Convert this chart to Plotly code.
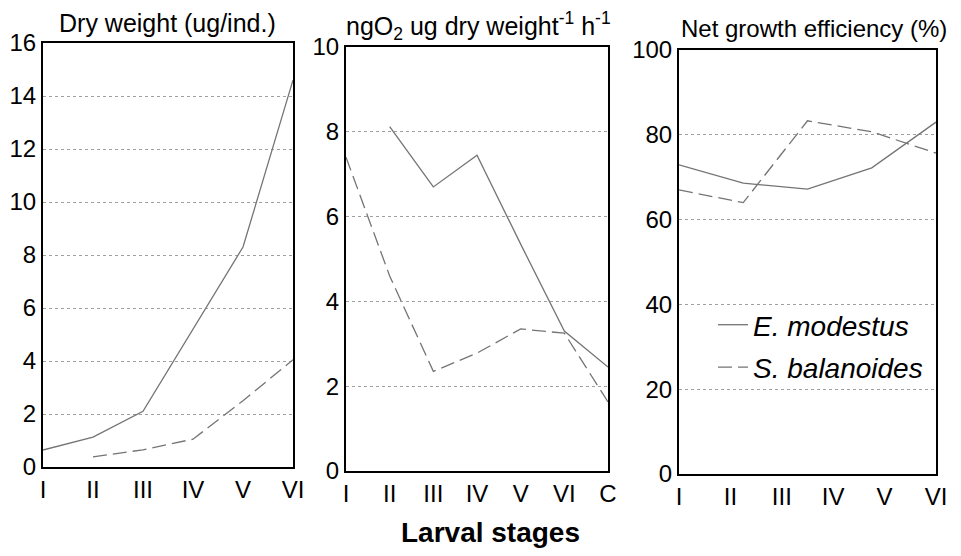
import plotly.graph_objects as go

# ---- data ----
stages6 = ["I", "II", "III", "IV", "V", "VI"]
stages7 = ["I", "II", "III", "IV", "V", "VI", "C"]

dry_modestus = [0.64, 1.13, 2.1, 5.2, 8.3, 14.6]
dry_balanoides = [None, 0.38, 0.65, 1.05, 2.5, 4.05]

resp_modestus = [None, 8.12, 6.7, 7.45, 5.35, 3.3, 2.45]
resp_balanoides = [7.4, 4.6, 2.35, 2.78, 3.35, 3.25, 1.63]

eff_x = [1, 2.25, 3.5, 4.75, 6]          # stage positions of the efficiency points
eff_modestus = [72.9, 68.6, 67.2, 72.2, 83.0]
eff_balanoides = [67.0, 64.0, 83.3, 80.7, 75.7]

# page is 961x556; the html body has an 8px margin
OFF = 8
W, H = 961 - 2 * OFF, 556 - 2 * OFF
GRAY = "#747474"
FONT = "Liberation Sans, Arial, sans-serif"

fig = go.Figure()

def fx(a):
    return (a - OFF) / W

def fy(a):
    return (H - (a - OFF)) / H

def px_x(a, b):
    return [fx(a), fx(b)]

def px_y(top, bottom):
    return [fy(bottom), fy(top)]

solid = dict(color=GRAY, width=1.3)
dashed = dict(color=GRAY, width=1.3, dash="14px,6px")

# panel 1
fig.add_trace(go.Scatter(x=stages6, y=dry_modestus, mode="lines", line=solid,
                         xaxis="x", yaxis="y", showlegend=False))
fig.add_trace(go.Scatter(x=stages6, y=dry_balanoides, mode="lines", line=dashed,
                         xaxis="x", yaxis="y", showlegend=False))
# panel 2
fig.add_trace(go.Scatter(x=stages7, y=resp_modestus, mode="lines", line=solid,
                         xaxis="x2", yaxis="y2", showlegend=False))
fig.add_trace(go.Scatter(x=stages7, y=resp_balanoides, mode="lines", line=dashed,
                         xaxis="x2", yaxis="y2", showlegend=False))
# panel 3
fig.add_trace(go.Scatter(x=eff_x, y=eff_modestus, mode="lines", line=solid,
                         xaxis="x3", yaxis="y3", name="<i>E. modestus</i>",
                         legendgroup="a"))
fig.add_trace(go.Scatter(x=eff_x, y=eff_balanoides, mode="lines", line=dashed,
                         xaxis="x3", yaxis="y3", name="<i>S. balanoides</i>",
                         legendgroup="b"))

axis_common = dict(showline=True, linecolor="black", linewidth=2, mirror=True,
                   ticks="", zeroline=False, automargin=False,
                   tickfont=dict(size=24, color="black", family=FONT))
yaxis_common = dict(axis_common, showgrid=True, gridcolor="#a0a0a0", gridwidth=1,
                    griddash="dot")

fig.update_layout(
    width=W, height=H,
    margin=dict(l=0, r=0, t=0, b=0),
    paper_bgcolor="white", plot_bgcolor="white",
    font=dict(family=FONT, color="black"),
    xaxis=dict(axis_common, domain=px_x(43, 293), range=[0, 5], showgrid=False,
               anchor="y", type="category"),
    yaxis=dict(yaxis_common, domain=px_y(43, 467), range=[0, 16], dtick=2,
               anchor="x"),
    xaxis2=dict(axis_common, domain=px_x(346, 608), range=[0, 6], showgrid=False,
                anchor="y2", type="category"),
    yaxis2=dict(yaxis_common, domain=px_y(47, 471), range=[0, 10], dtick=2,
                anchor="x2"),
    xaxis3=dict(axis_common, domain=px_x(679, 936), range=[1, 6], showgrid=False,
                anchor="y3", tickvals=[1, 2, 3, 4, 5, 6], ticktext=stages6),
    yaxis3=dict(yaxis_common, domain=px_y(50, 474), range=[0, 100], dtick=20,
                anchor="x3"),
    legend=dict(x=fx(713), y=fy(300), xanchor="left", yanchor="top",
                bgcolor="rgba(0,0,0,0)", font=dict(size=28, family=FONT),
                itemwidth=30, tracegroupgap=3),
    annotations=[
        dict(text="Dry weight (ug/ind.)", x=fx(167), y=fy(23), xref="paper",
             yref="paper", xanchor="center", yanchor="middle", showarrow=False,
             font=dict(size=25)),
        dict(text="ngO<sub>2</sub> ug dry weight<sup>-1</sup> h<sup>-1</sup>",
             x=fx(478), y=fy(26), xref="paper", yref="paper",
             xanchor="center", yanchor="middle", showarrow=False,
             font=dict(size=25)),
        dict(text="Net growth efficiency (%)", x=fx(814), y=fy(29),
             xref="paper", yref="paper", xanchor="center", yanchor="middle",
             showarrow=False, font=dict(size=24)),
        dict(text="<b>Larval stages</b>", x=fx(490), y=fy(532),
             xref="paper", yref="paper", xanchor="center", yanchor="middle",
             showarrow=False, font=dict(size=28)),
    ],
)

fig.write_html("out.html")
